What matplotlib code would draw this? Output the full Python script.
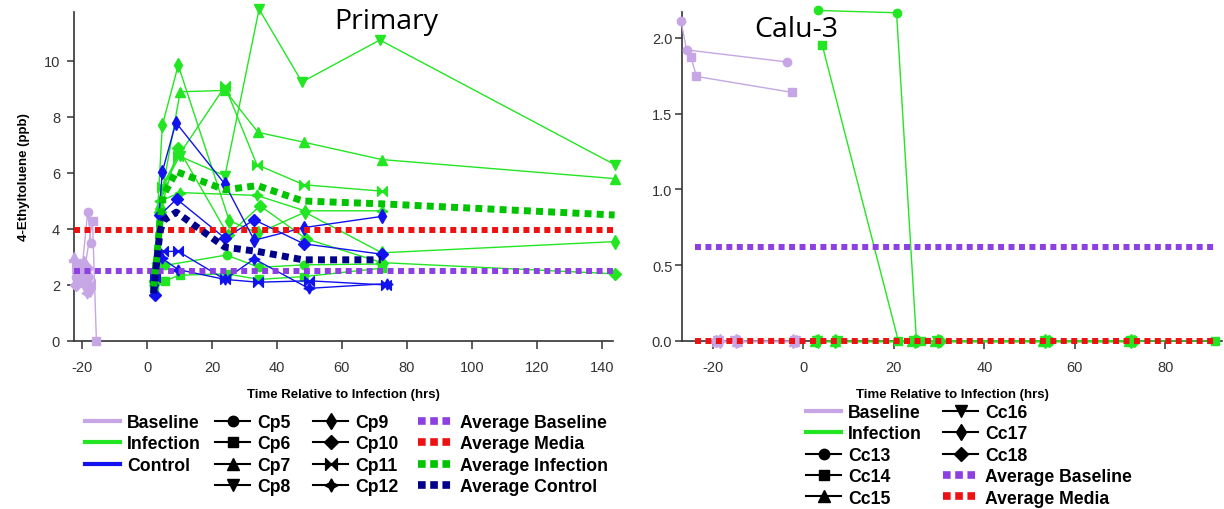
import matplotlib
matplotlib.use("Agg")
import matplotlib.pyplot as plt
from matplotlib.lines import Line2D
from matplotlib.path import Path

# ---------------- data: Primary (left panel) ----------------
# baseline runs (before infection), one per culture
base_p_x = {
    "Cp5": [-22, -20, -18.3, -17.2],
    "Cp6": [-21.5, -19.5, -16.8, -15.6],
    "Cp7": [-22.5, -20.5, -18],
    "Cp8": [-22, -19, -17.5],
    "Cp9": [-21, -19.5, -18],
    "Cp10": [-22, -20, -18.5],
    "Cp11": [-21.5, -19, -17.5],
    "Cp12": [-22.5, -20.5, -18.5],
}
base_p_y = {
    "Cp5": [2.3, 2.6, 4.6, 3.5],
    "Cp6": [2.1, 2.4, 4.3, 0.0],
    "Cp7": [3.0, 2.2, 2.0],
    "Cp8": [2.7, 1.9, 1.75],
    "Cp9": [2.5, 2.8, 2.3],
    "Cp10": [2.0, 2.3, 2.6],
    "Cp11": [2.6, 2.1, 2.05],
    "Cp12": [2.9, 2.75, 1.7],
}

# infection cultures
inf_p_x = {
    "Cp5": [2, 5.5, 24.5, 34.5, 48.3, 72.3],
    "Cp6": [2, 5.5, 10, 24.5, 34.5, 48.3, 72.3],
    "Cp7": [2.5, 4, 10.2, 24, 34.2, 48.3, 72.3, 144],
    "Cp8": [2.2, 4.5, 10, 24, 34.5, 47.7, 71.7, 144],
    "Cp9": [2, 4.7, 9.6, 25.3, 34.2, 48.6, 72.3, 144],
    "Cp10": [2.5, 4, 9.5, 25, 34.8, 49, 72.3, 144],
    "Cp11": [3, 4.5, 9.6, 24, 33.8, 48.3, 72.3],
    "Cp12": [3, 4, 10.2, 33.8, 48.6, 72.3],
}
inf_p_y = {
    "Cp5": [2.0, 2.7, 3.07, 2.63, 2.72, 2.75],
    "Cp6": [1.9, 2.15, 2.35, 2.4, 2.2, 2.3, 2.6],
    "Cp7": [2.2, 4.9, 8.9, 8.95, 7.45, 7.1, 6.48, 5.8],
    "Cp8": [2.0, 5.4, 6.6, 5.9, 11.85, 9.25, 10.75, 6.3],
    "Cp9": [2.0, 7.7, 9.85, 4.3, 3.85, 4.6, 3.15, 3.55],
    "Cp10": [2.1, 4.6, 6.9, 3.78, 4.83, 3.65, 2.8, 2.4],
    "Cp11": [2.6, 5.5, 6.6, 9.1, 6.3, 5.58, 5.35],
    "Cp12": [2.8, 5.0, 5.3, 5.2, 4.65, 4.65],
}

# control cultures
ctl_p_x = {
    "Cp9": [2, 4.7, 8.9, 24, 33, 48.3, 72.3],
    "Cp10": [2.5, 4, 9.1, 24, 33, 48.3, 72.3],
    "Cp11": [2.5, 5, 9.6, 24, 34.2, 50, 73.6],
    "Cp12": [2, 4.6, 9.6, 24, 33, 49.8, 74],
}
ctl_p_y = {
    "Cp9": [2.0, 6.05, 7.8, 5.6, 3.6, 4.05, 4.45],
    "Cp10": [1.65, 4.5, 5.07, 3.67, 4.33, 3.47, 3.1],
    "Cp11": [2.3, 3.2, 3.2, 2.2, 2.1, 2.15, 2.0],
    "Cp12": [2.5, 2.95, 2.55, 2.2, 2.93, 1.88, 2.05],
}

avg_inf_x = [2, 3, 4, 5, 9, 24, 34, 48, 72, 144]
avg_inf_y = [1.9, 3.0, 4.3, 5.2, 6.05, 5.4, 5.55, 5.0, 4.9, 4.5]
avg_ctl_x = [2, 3, 4, 5, 9, 24, 34, 48, 72]
avg_ctl_y = [1.7, 2.9, 3.9, 4.3, 4.6, 3.35, 3.2, 2.9, 2.9]
avg_base_p = 2.5
avg_media_p = 3.97
avg_span_p = [-22.5, 144]

# ---------------- data: Calu-3 (right panel) ----------------
base_c_x = {
    "Cc13": [-27, -25.8, -3.5],
    "Cc14": [-24.8, -23.6, -2.5],
    "Cc15": [-19, -14.6, -2],
    "Cc16": [-18.8, -15, -1.8],
    "Cc17": [-18.5, -14.8, -2.2],
    "Cc18": [-19.2, -14.5, -1.6],
}
base_c_y = {
    "Cc13": [2.11, 1.92, 1.84],
    "Cc14": [1.87, 1.745, 1.64],
    "Cc15": [0, 0, 0],
    "Cc16": [0, 0, 0],
    "Cc17": [0, 0, 0],
    "Cc18": [0, 0, 0],
}
inf_c_x = {
    "Cc13": [3.3, 20.6, 25, 30, 54, 72.3],
    "Cc14": [4.2, 21, 26, 54, 72, 91],
    "Cc15": [2.5, 7, 24, 29, 53, 72],
    "Cc16": [3, 7.5, 24.5, 29.5, 53.5, 72.5],
    "Cc17": [3.3, 7.1, 24.7, 29.8, 53.5, 72.3],
    "Cc18": [2.8, 7.3, 25.2, 30.2, 54.2, 73],
}
inf_c_y = {
    "Cc13": [2.18, 2.165, 0, 0, 0, 0],
    "Cc14": [1.95, 0, 0, 0, 0, 0],
    "Cc15": [0, 0, 0, 0, 0, 0],
    "Cc16": [0, 0, 0, 0, 0, 0],
    "Cc17": [0, 0, 0, 0, 0, 0],
    "Cc18": [0, 0, 0, 0, 0, 0],
}
avg_base_c = 0.62
avg_media_c = 0.0
avg_span_c = [-24, 91]

# ---------------- styles ----------------
LAV = "#c6a6e4"
GREEN = "#22e622"
BLUE = "#1212ee"
AVG_GREEN = "#00c400"
NAVY = "#00008a"
PURPLE = "#8e3fe2"
RED = "#ee1111"

bowtie = Path([(-1, -1), (-1, 1), (0, 0), (-1, -1), (1, -1), (1, 1), (0, 0), (1, -1)],
              [Path.MOVETO, Path.LINETO, Path.LINETO, Path.CLOSEPOLY,
               Path.MOVETO, Path.LINETO, Path.LINETO, Path.CLOSEPOLY])
star4 = (4, 1, 0)

markers = {"Cp5": "o", "Cp6": "s", "Cp7": "^", "Cp8": "v",
           "Cp9": "d", "Cp10": "D", "Cp11": bowtie, "Cp12": star4,
           "Cc13": "o", "Cc14": "s", "Cc15": "^", "Cc16": "v",
           "Cc17": "d", "Cc18": "D"}
msizes = {"o": 6, "s": 6, "^": 6.5, "v": 6.5, "d": 7, "D": 6}

plt.rcParams["font.family"] = ["Liberation Sans", "DejaVu Sans"]
plt.rcParams["axes.unicode_minus"] = False

W, H = 1224, 510
fig = plt.figure(figsize=(W / 100, H / 100), dpi=100)


def fx(px):
    return px / W


def fy(py):
    return 1 - py / H


ax1 = fig.add_axes([fx(74), fy(342), fx(613 - 74), (342 - 13) / H])
ax2 = fig.add_axes([fx(682), fy(342), fx(1222 - 682), (342 - 13) / H])


def draw(ax, xs, ys, color, lw=1.0):
    for k in xs:
        m = markers[k]
        ms = msizes.get(m, 7) if isinstance(m, str) else (7 if m is bowtie else 8)
        ax.plot(xs[k], ys[k], color=color, lw=lw, marker=m, ms=ms,
                mec=color, mfc=color, clip_on=False, zorder=3)


def dotted(ax, x, y, color, lw=4.3):
    ax.plot(x, y, color=color, lw=lw, linestyle=(0, (1, 0.75)),
            dash_capstyle="butt", clip_on=False, zorder=4)


# left panel
dotted(ax1, avg_span_p, [avg_base_p, avg_base_p], PURPLE)
dotted(ax1, avg_span_p, [avg_media_p, avg_media_p], RED)
draw(ax1, base_p_x, base_p_y, LAV)
draw(ax1, inf_p_x, inf_p_y, GREEN)
draw(ax1, ctl_p_x, ctl_p_y, BLUE)
dotted(ax1, avg_inf_x, avg_inf_y, AVG_GREEN, lw=5)
dotted(ax1, avg_ctl_x, avg_ctl_y, NAVY, lw=5)

ax1.set_xlim(-22.5, 143.5)
ax1.set_ylim(0, 11.75)
ax1.set_xticks(range(-20, 141, 20))
ax1.set_yticks(range(0, 11, 2))
ax1.set_ylabel("4-Ethyltoluene (ppb)", fontsize=9.5, fontweight="bold", labelpad=10)

# right panel
draw(ax2, base_c_x, base_c_y, LAV)
draw(ax2, inf_c_x, inf_c_y, GREEN)
dotted(ax2, avg_span_c, [avg_base_c, avg_base_c], PURPLE)
dotted(ax2, avg_span_c, [avg_media_c, avg_media_c], RED)

ax2.set_xlim(-26.8, 92.5)
ax2.set_ylim(0, 2.17)
ax2.set_xticks(range(-20, 81, 20))
ax2.set_yticks([0, 0.5, 1.0, 1.5, 2.0])
ax2.set_yticklabels(["0.0", "0.5", "1.0", "1.5", "2.0"])

for ax in (ax1, ax2):
    for s in ("top", "right"):
        ax.spines[s].set_visible(False)
    for s in ("left", "bottom"):
        ax.spines[s].set_color("#333333")
        ax.spines[s].set_linewidth(1.2)
    ax.tick_params(axis="x", direction="out", length=5.5, width=1.1,
                   pad=8, labelsize=10.5, colors="#333333")
    ax.tick_params(axis="y", direction="out", length=5, width=1.1,
                   pad=5, labelsize=10.5, colors="#333333")
    ax.set_xlabel("Time Relative to Infection (hrs)", fontsize=9.5,
                  fontweight="bold", labelpad=10)
ax2.tick_params(axis="y", pad=2)

fig.text(fx(386), fy(22), "Primary", fontsize=20.5, family=["Open Sans", "DejaVu Sans"],
         ha="center", va="center")
fig.text(fx(796), fy(30), "Calu-3", fontsize=20.5, family=["Open Sans", "DejaVu Sans"],
         ha="center", va="center")


# ---------------- legends ----------------
def line_h(c):
    return Line2D([], [], color=c, lw=3)


def mark_h(m):
    ms = msizes.get(m, 7) if isinstance(m, str) else (7 if m is bowtie else 8)
    return Line2D([], [], color="black", lw=1.5, marker=m, ms=ms + 1.5)


def dot_h(c):
    return Line2D([], [], color=c, lw=5.5, linestyle=(0, (1, 0.6)), dash_capstyle="butt")


def column(handles, labels, px, py):
    leg = fig.legend(handles, labels, loc="upper left",
                     bbox_to_anchor=(fx(px), fy(py)), frameon=False,
                     borderpad=0, borderaxespad=0, handlelength=2.0,
                     handletextpad=0.4, labelspacing=0.25,
                     prop={"size": 12.7, "weight": "bold"})
    return leg


column([line_h(LAV), line_h(GREEN), line_h(BLUE)],
       ["Baseline", "Infection", "Control"], 85, 415)
column([mark_h(markers[k]) for k in ["Cp5", "Cp6", "Cp7", "Cp8"]],
       ["Cp5", "Cp6", "Cp7", "Cp8"], 215, 415)
column([mark_h(markers[k]) for k in ["Cp9", "Cp10", "Cp11", "Cp12"]],
       ["Cp9", "Cp10", "Cp11", "Cp12"], 313, 415)
column([dot_h(PURPLE), dot_h(RED), dot_h(AVG_GREEN), dot_h(NAVY)],
       ["Average Baseline", "Average Media", "Average Infection", "Average Control"],
       418, 415)
column([line_h(LAV), line_h(GREEN)] + [mark_h(markers[k]) for k in ["Cc13", "Cc14", "Cc15"]],
       ["Baseline", "Infection", "Cc13", "Cc14", "Cc15"], 806, 405)
column([mark_h(markers[k]) for k in ["Cc16", "Cc17", "Cc18"]] + [dot_h(PURPLE), dot_h(RED)],
       ["Cc16", "Cc17", "Cc18", "Average Baseline", "Average Media"], 943, 405)

fig.savefig("out.png", dpi=100)
